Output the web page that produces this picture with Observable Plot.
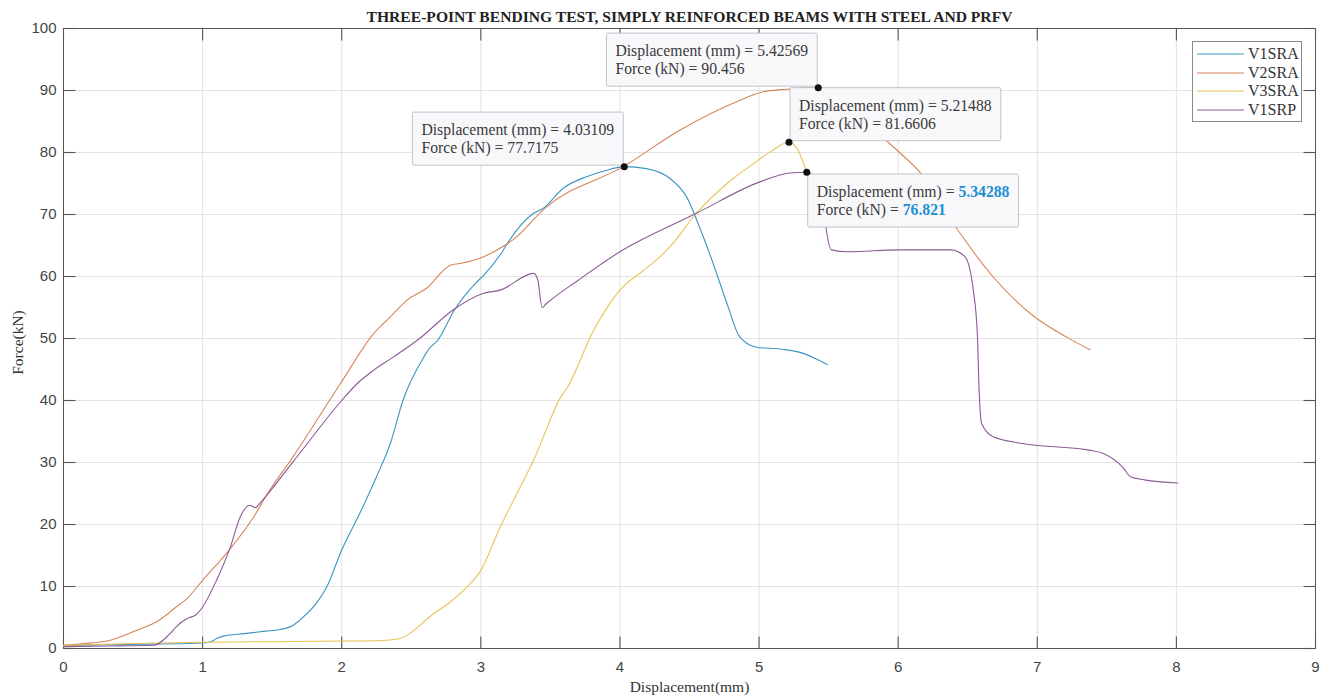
<!DOCTYPE html>
<html><head><meta charset="utf-8">
<script src="https://cdn.jsdelivr.net/npm/d3@7"></script>
<script src="https://cdn.jsdelivr.net/npm/@observablehq/plot@0.6"></script>
<style>
body{margin:0;background:#fff;}
#chart{position:relative;width:1329px;height:696px;}
.legend{position:absolute;left:1192px;top:41px;width:110px;height:81px;border:1px solid #8a8a8a;background:#fff;box-sizing:border-box;padding-top:3px;font-family:"Liberation Serif","Times New Roman",serif;font-size:16px;color:#333;}
.legend .row{height:18.5px;line-height:18.5px;display:flex;align-items:center;white-space:nowrap;}
.legend svg{margin-left:4px;margin-right:4px;}
</style></head><body><div id="chart"></div>
<script>
const chartTitle = "THREE-POINT BENDING TEST, SIMPLY REINFORCED BEAMS WITH STEEL AND PRFV";
const xLabel = "Displacement(mm)";
const yLabel = "Force(kN)";
const seriesNames = ["V1SRA", "V2SRA", "V3SRA", "V1SRP"];
const seriesColors = ["#3b95c4", "#d8845a", "#e8c255", "#8c5a95"];
const xTicks = [0, 1, 2, 3, 4, 5, 6, 7, 8, 9];
const yTicks = [0, 10, 20, 30, 40, 50, 60, 70, 80, 90, 100];

const v1sraX = [0, 0.3, 0.6, 0.9, 1.05, 1.1, 1.15, 1.3, 1.45, 1.556, 1.652, 1.72, 1.796, 1.892, 2.0, 2.13, 2.18, 2.25, 2.35, 2.44, 2.59, 2.63, 2.69, 2.81, 2.97, 3.02, 3.16, 3.19, 3.38, 3.45, 3.59, 3.76, 3.9, 4.031, 4.19, 4.36, 4.48, 4.58, 4.67, 4.77, 4.86, 4.98, 5.15, 5.32, 5.4, 5.49];
const v1sraY = [0.5, 0.6, 0.7, 0.8, 1.0, 1.6, 2.0, 2.4, 2.8, 3.06, 3.76, 5.0, 6.7, 9.9, 15.9, 21.8, 24.2, 27.7, 33.1, 40.0, 47.0, 48.4, 49.7, 54.6, 59.1, 60.2, 64.2, 65.3, 70.2, 71.0, 74.2, 76.1, 77.1, 77.72, 77.4, 75.8, 72.8, 67.5, 62.1, 55.6, 50.3, 48.6, 48.3, 47.6, 46.8, 45.8];

const v2sraX = [0, 0.2, 0.33, 0.5, 0.69, 0.81, 0.89, 1.0, 1.17, 1.41, 1.44, 1.65, 1.99, 2.23, 2.35, 2.47, 2.61, 2.78, 2.85, 3.02, 3.11, 3.23, 3.47, 4.03, 4.43, 4.86, 5.03, 5.2, 5.4257, 5.5, 5.65, 5.8, 5.99, 6.16, 6.41, 6.68, 6.98, 7.22, 7.38];
const v2sraY = [0.5, 0.9, 1.3, 2.7, 4.6, 6.7, 8.1, 11.0, 15.3, 22.8, 24.0, 30.9, 42.7, 50.8, 53.5, 56.2, 58.1, 61.8, 62.1, 63.2, 64.2, 65.9, 71.2, 77.8, 83.6, 88.4, 89.8, 90.2, 90.456, 89.6, 87.0, 84.2, 80.4, 76.7, 68.1, 60.0, 53.5, 50.1, 48.2];

const v3sraX = [0, 0.5, 1.0, 1.5, 2.0, 2.3, 2.42, 2.66, 2.78, 2.9, 3.0, 3.14, 3.26, 3.38, 3.59, 3.61, 3.81, 4.0, 4.17, 4.29, 4.36, 4.55, 4.77, 4.96, 5.08, 5.21488, 5.28, 5.32, 5.345];
const v3sraY = [0.5, 0.8, 1.0, 1.1, 1.2, 1.3, 1.6, 5.6, 7.5, 9.9, 12.6, 19.6, 25.0, 30.4, 41.1, 41.7, 51.3, 57.8, 61.0, 63.2, 64.8, 70.2, 75.0, 78.2, 80.1, 81.6606, 80.4, 78.2, 76.6];

const v1srpX = [0, 0.3, 0.646, 0.766, 0.81, 0.886, 0.92, 0.95, 1.0, 1.1, 1.2, 1.27, 1.34, 1.38, 1.41, 1.65, 2.0, 2.11, 2.23, 2.37, 2.56, 2.8, 3.02, 3.14, 3.38, 3.41, 3.44, 3.47, 3.7, 4.0, 4.55, 5.01, 5.22, 5.34288, 5.4, 5.46, 5.48, 5.52, 5.64, 6.01, 6.38, 6.48, 6.54, 6.57, 6.58, 6.6, 6.68, 6.88, 7.37, 7.47, 7.62, 7.67, 7.77, 8.01];
const v1srpY = [0.3, 0.4, 0.53, 2.4, 3.5, 4.8, 5.1, 5.4, 6.7, 11.0, 16.4, 21.2, 23.1, 22.7, 23.4, 30.1, 40.0, 42.7, 44.9, 47.0, 50.0, 54.6, 57.3, 57.8, 60.5, 59.4, 55.0, 55.6, 59.4, 64.0, 70.2, 75.3, 76.7, 76.821, 76.0, 72.0, 68.1, 64.3, 64.0, 64.3, 64.3, 63.2, 57.8, 50.3, 42.8, 36.3, 34.2, 33.1, 32.0, 31.5, 29.1, 27.7, 27.2, 26.7];

const tipSeries = ["V1SRA", "V2SRA", "V3SRA", "V1SRP"];
const tipX = [4.03109, 5.42569, 5.21488, 5.34288];
const tipY = [77.7175, 90.456, 81.6606, 76.821];

const xs = [v1sraX, v2sraX, v3sraX, v1srpX];
const ys = [v1sraY, v2sraY, v3sraY, v1srpY];
const rows = seriesNames.flatMap((s, i) => xs[i].map((x, j) => ({series: s, x, y: ys[i][j]})));
const tips = tipSeries.map((s, i) => ({series: s, x: tipX[i], y: tipY[i],
  text: `Displacement (mm) = ${tipX[i]}\nForce (kN) = ${tipY[i]}`}));
const leftSideTips = ["V1SRA", "V2SRA"];

const W = 1329, H = 696, mL = 63, mR = 14, mT = 28, mB = 48;
const xDomain = [0, 9], yDomain = [0, 100];
const frameW = W - mL - mR, frameH = H - mT - mB, tickLen = 12;
const xTickLen = (xDomain[1] - xDomain[0]) * tickLen / frameW;
const yTickLen = (yDomain[1] - yDomain[0]) * tickLen / frameH;
const tickRows = [
  ...xTicks.map(v => ({x1: v, x2: v, y1: yDomain[0], y2: yDomain[0] + yTickLen})),
  ...xTicks.map(v => ({x1: v, x2: v, y1: yDomain[1], y2: yDomain[1] - yTickLen})),
  ...yTicks.map(v => ({x1: xDomain[0], x2: xDomain[0] + xTickLen, y1: v, y2: v})),
  ...yTicks.map(v => ({x1: xDomain[1], x2: xDomain[1] - xTickLen, y1: v, y2: v}))
];
const serif = "'Liberation Serif','Times New Roman',serif";
const axisColor = "#555";
const tipFont = {fontFamily: serif, fontSize: 15.7, lineHeight: 1.15, fill: "#3a3a3a", textAnchor: "start", dx: 10};

const plot = Plot.plot({
  width: W, height: H,
  marginLeft: mL, marginRight: mR, marginTop: mT, marginBottom: mB,
  style: {fontFamily: "'Liberation Sans', Arial, sans-serif", fontSize: "15px", color: "#444", background: "white"},
  x: {domain: xDomain},
  y: {domain: yDomain},
  color: {domain: seriesNames, range: seriesColors},
  marks: [
    Plot.gridX(xTicks, {stroke: "#e2e2e2", strokeOpacity: 1}),
    Plot.gridY(yTicks, {stroke: "#e2e2e2", strokeOpacity: 1}),
    Plot.axisX(xTicks, {anchor: "bottom", tickSize: 0, tickPadding: 13, label: null, fill: "#444", tickFormat: d => String(d)}),
    Plot.axisY(yTicks, {anchor: "left", tickSize: 0, tickPadding: 7, label: null, fill: "#444", tickFormat: d => String(d)}),
    Plot.link(tickRows, {x1: "x1", y1: "y1", x2: "x2", y2: "y2", stroke: axisColor, strokeWidth: 1.1}),
    Plot.frame({stroke: axisColor}),
    Plot.line(rows, {x: "x", y: "y", z: "series", stroke: "series", strokeWidth: 1.1, curve: "monotone-x"}),
    Plot.text(tips.filter(d => d.series !== "V1SRP"), {x: "x", y: "y", text: "text", lineAnchor: "bottom", dy: -13.5, ...tipFont}),
    Plot.text(tips.filter(d => d.series === "V1SRP"), {x: "x", y: "y", text: "text", lineAnchor: "top", dy: 12, ...tipFont}),
    Plot.dot(tips, {x: "x", y: "y", r: 3.5, fill: "#111", stroke: "none"}),
    Plot.text([chartTitle], {frameAnchor: "top", lineAnchor: "middle", dy: -12, text: d => d, fontFamily: serif, fontWeight: "bold", fontSize: 15.6, fill: "#222"}),
    Plot.text([xLabel], {frameAnchor: "bottom", lineAnchor: "middle", dy: 39, text: d => d, fontFamily: serif, fontSize: 15.5, fill: "#333"}),
    Plot.text([yLabel], {frameAnchor: "left", textAnchor: "middle", lineAnchor: "middle", dx: -45, dy: 4, rotate: -90, text: d => d, fontFamily: serif, fontSize: 15.5, fill: "#333"})
  ]
});

const container = document.getElementById("chart");
container.appendChild(plot);

// datatip boxes
const SVGNS = "http://www.w3.org/2000/svg";
const highlightValues = [String(tipX[3]), String(tipY[3])];
const leftSideX = tipSeries.map((s, i) => leftSideTips.includes(s) ? String(tipX[i]) : null).filter(Boolean);
[...plot.querySelectorAll("text")].filter(t => t.textContent.startsWith("Displacement (mm)")).forEach(t => {
  const content = t.textContent;
  if (content.includes("= " + String(tipX[3]))) {
    t.querySelectorAll("tspan").forEach(ts => {
      const s = ts.textContent;
      const v = highlightValues.find(h => s.endsWith("= " + h));
      if (v) {
        ts.textContent = s.slice(0, s.length - v.length);
        const inner = document.createElementNS(SVGNS, "tspan");
        inner.textContent = v;
        inner.setAttribute("fill", "#1b8fd2");
        inner.setAttribute("font-weight", "bold");
        ts.appendChild(inner);
      }
    });
  }
  let bb = t.getBBox();
  if (leftSideX.some(v => content.includes("= " + v))) {
    const tr = t.getAttribute("transform") || "";
    t.setAttribute("transform", `${tr} translate(${-(bb.x + bb.width) - 20},0)`);
    bb = t.getBBox();
  }
  const r = document.createElementNS(SVGNS, "rect");
  r.setAttribute("x", bb.x - 9);
  r.setAttribute("y", bb.y - 9);
  r.setAttribute("width", bb.width + 18);
  r.setAttribute("height", bb.height + 17);
  r.setAttribute("rx", 1.5);
  r.setAttribute("fill", "#f8f8fb");
  r.setAttribute("stroke", "#c2c2ca");
  if (t.getAttribute("transform")) r.setAttribute("transform", t.getAttribute("transform"));
  t.parentNode.insertBefore(r, t);
});

// legend
const legend = document.createElement("div");
legend.className = "legend";
seriesNames.forEach((s, i) => {
  const row = document.createElement("div");
  row.className = "row";
  row.innerHTML = `<svg width="47" height="4"><line x1="0" x2="47" y1="2" y2="2" stroke="${seriesColors[i]}" stroke-width="1.1"/></svg><span>${s}</span>`;
  legend.appendChild(row);
});
container.appendChild(legend);
</script></body></html>
